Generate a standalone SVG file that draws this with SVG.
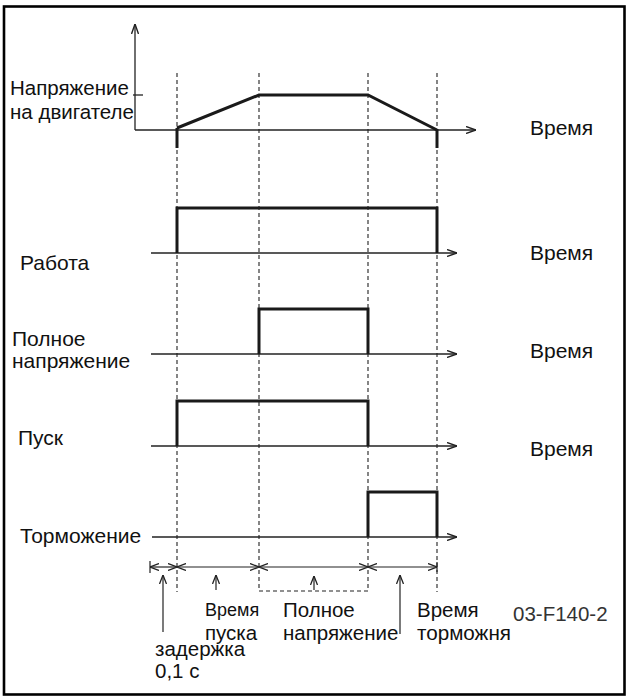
<svg xmlns="http://www.w3.org/2000/svg" width="627" height="697" viewBox="0 0 627 697">
<style>
text{font-family:"Liberation Sans",Arial,sans-serif;fill:#111}
.t{font-size:20.5px}
.l{font-size:21px}
.b{font-size:20.5px}
.ax{stroke:#222;stroke-width:1.3;fill:none}
.sig{stroke:#1a1a1a;stroke-width:3;fill:none;stroke-linejoin:miter}
.dash{stroke:#222;stroke-width:1.1;stroke-dasharray:4 3;fill:none}
.dim{stroke:#222;stroke-width:1.2;fill:none}
</style>
<defs>
<marker id="arr" viewBox="0 0 10 8" refX="10" refY="4" markerWidth="10" markerHeight="8" markerUnits="userSpaceOnUse" orient="auto-start-reverse">
<path d="M0,0.5 L10,4 L0,7.5" fill="none" stroke="#222" stroke-width="1.4"/>
</marker>
<marker id="sm" viewBox="0 0 9 8" refX="9" refY="4" markerWidth="9" markerHeight="8" markerUnits="userSpaceOnUse" orient="auto-start-reverse">
<path d="M0,0.5 L9,4 L0,7.5" fill="none" stroke="#222" stroke-width="1.3"/>
</marker>
</defs>
<rect x="4" y="6.5" width="620.5" height="688" fill="#fff" stroke="#000" stroke-width="2.6"/>

<g id="connectors">
<line class="dash" x1="177" y1="73" x2="177" y2="592"/>
<line class="dash" x1="259" y1="73" x2="259" y2="591"/>
<line class="dash" x1="368" y1="73" x2="368" y2="591"/>
<line class="dash" x1="437" y1="73" x2="437" y2="592"/>
<line class="dash" x1="259" y1="591" x2="368" y2="591"/>
</g>

<g id="motor-voltage">
<line class="ax" x1="135" y1="130" x2="135" y2="24" marker-end="url(#arr)"/>
<line class="ax" x1="135" y1="130" x2="476" y2="130" marker-end="url(#arr)"/>
<line class="ax" x1="133" y1="95" x2="143" y2="95"/>
<polyline class="sig" points="177,128 259,95 368,95 437,130"/>
<line class="sig" x1="177" y1="128" x2="177" y2="148"/>
<line class="sig" x1="437" y1="129" x2="437" y2="148"/>
<text class="t" x="10" y="95">Напряжение</text>
<text class="t" x="10" y="119">на двигателе</text>
<text class="l" x="530" y="135">Время</text>
</g>

<g id="run">
<line class="ax" x1="151" y1="253" x2="457" y2="253" marker-end="url(#arr)"/>
<polyline class="sig" points="177,253 177,208 437,208 437,253"/>
<text class="l" x="20" y="270">Работа</text>
<text class="l" x="530" y="260">Время</text>
</g>

<g id="full-voltage">
<line class="ax" x1="151" y1="354" x2="457" y2="354" marker-end="url(#arr)"/>
<polyline class="sig" points="259,354 259,309 368,309 368,354"/>
<text class="l" x="12" y="346">Полное</text>
<text class="l" x="12" y="368">напряжение</text>
<text class="l" x="530" y="358">Время</text>
</g>

<g id="start">
<line class="ax" x1="151" y1="446" x2="457" y2="446" marker-end="url(#arr)"/>
<polyline class="sig" points="177,446 177,401 368,401 368,446"/>
<text class="l" x="18" y="445">Пуск</text>
<text class="l" x="530" y="456">Время</text>
</g>

<g id="braking">
<line class="ax" x1="152" y1="537" x2="457" y2="537" marker-end="url(#arr)"/>
<polyline class="sig" points="368,537 368,492 437,492 437,537"/>
<text class="l" x="20" y="543">Торможение</text>
</g>

<g id="timeline">
<line class="dim" x1="150" y1="561" x2="150" y2="573"/>
<line class="dim" x1="437" y1="562" x2="437" y2="572"/>
<line class="dim" x1="150" y1="567" x2="177" y2="567" marker-start="url(#sm)" marker-end="url(#sm)"/>
<line class="dim" x1="177" y1="567" x2="259" y2="567" marker-start="url(#sm)" marker-end="url(#sm)"/>
<line class="dim" x1="259" y1="567" x2="368" y2="567" marker-start="url(#sm)" marker-end="url(#sm)"/>
<line class="dim" x1="368" y1="567" x2="437" y2="567" marker-start="url(#sm)" marker-end="url(#sm)"/>
<line class="dim" x1="163" y1="632" x2="163" y2="575" marker-end="url(#sm)"/>
<line class="dim" x1="216" y1="590" x2="216" y2="575" marker-end="url(#sm)"/>
<line class="dim" x1="314" y1="590" x2="314" y2="576" marker-end="url(#sm)"/>
<line class="dim" x1="400" y1="634" x2="400" y2="575" marker-end="url(#sm)"/>
</g>

<g id="labels">
<text x="205" y="616" style="font-size:18px">Время</text>
<text class="b" x="205" y="640">пуска</text>
<text class="b" x="155" y="656">задержка</text>
<text class="b" x="155" y="678">0,1 с</text>
<text class="b" x="283" y="617">Полное</text>
<text class="b" x="283" y="640">напряжение</text>
<text class="b" x="417" y="617">Время</text>
<text class="b" x="417" y="640" textLength="94" lengthAdjust="spacingAndGlyphs">торможня</text>
<text class="b" x="513" y="621" style="fill:#333">03-F140-2</text>
</g>
</svg>
